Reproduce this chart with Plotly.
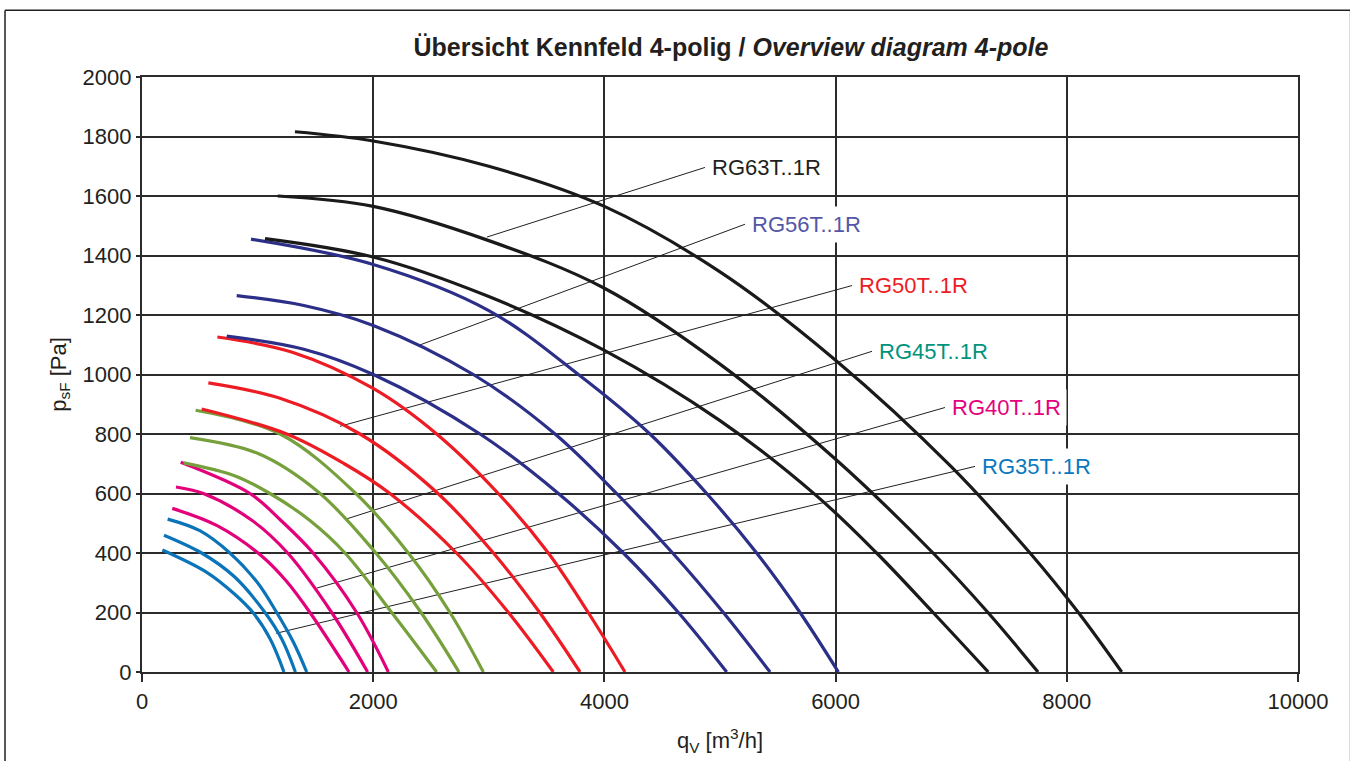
import plotly.graph_objects as go

# ---------------- data ----------------
# RG35T..1R (blue)
rg35_q1 = [176, 560, 800, 963, 1110, 1228]
rg35_p1 = [410, 335, 262, 198, 110, 0]
rg35_q2 = [190, 516, 800, 1064, 1210, 1327]
rg35_p2 = [460, 400, 320, 200, 110, 0]
rg35_q3 = [222, 500, 760, 1000, 1165, 1310, 1425]
rg35_p3 = [514, 475, 400, 300, 200, 100, 0]

# RG40T..1R (magenta)
rg40_q1 = [262, 650, 1035, 1250, 1453, 1791]
rg40_p1 = [550, 492, 390, 305, 200, 0]
rg40_q2 = [294, 531, 950, 1260, 1641, 1952]
rg40_p2 = [622, 600, 510, 400, 200, 0]
rg40_q3 = [335, 934, 1200, 1480, 1857, 2131]
rg40_p3 = [705, 600, 510, 400, 200, 0]

# RG45T..1R (green)
rg45_q1 = [360, 800, 1107, 1450, 1756, 2160, 2549]
rg45_p1 = [703, 660, 600, 510, 400, 200, 0]
rg45_q2 = [415, 1000, 1525, 2001, 2405, 2742]
rg45_p2 = [788, 735, 605, 410, 205, 0]
rg45_q3 = [464, 1194, 1850, 2304, 2664, 2953]
rg45_p3 = [880, 800, 600, 400, 200, 0]

# RG50T..1R (red)
rg50_q1 = [516, 1252, 1750, 2145, 2720, 3170, 3558]
rg50_p1 = [884, 800, 700, 600, 400, 200, 0]
rg50_q2 = [574, 1194, 1886, 2560, 3040, 3440, 3789]
rg50_p2 = [972, 920, 800, 600, 400, 200, 0]
rg50_q3 = [652, 1300, 2000, 2549, 3082, 3515, 3860, 4178]
rg50_p3 = [1126, 1075, 953, 800, 600, 400, 200, 0]

# RG56T..1R (navy)
rg56_q1 = [733, 1400, 2001, 2924, 3602, 4164, 4640, 5058]
rg56_p1 = [1129, 1085, 1000, 800, 600, 400, 200, 0]
rg56_q2 = [819, 1400, 2000, 2866, 3573, 4106, 4590, 5029, 5433]
rg56_p2 = [1265, 1232, 1165, 1000, 800, 600, 400, 200, 0]
rg56_q3 = [943, 2000, 3000, 3775, 4394, 4885, 5317, 5692, 6024]
rg56_p3 = [1455, 1370, 1215, 1000, 800, 600, 400, 200, 0]

# RG63T..1R (black)
rg63_q1 = [1064, 2000, 3000, 4000, 5000, 5836, 6355, 6843, 7321]
rg63_p1 = [1457, 1395, 1262, 1081, 845, 592, 400, 200, 0]
rg63_q2 = [1174, 2000, 3000, 4000, 5000, 6000, 6843, 7318, 7751]
rg63_p2 = [1600, 1565, 1450, 1290, 1035, 715, 400, 200, 0]
rg63_q3 = [1323, 2000, 3000, 4000, 5000, 6000, 7000, 7682, 8100, 8475]
rg63_p3 = [1816, 1785, 1700, 1565, 1345, 1048, 690, 400, 200, 0]

# labels with leader lines: start point on a curve, end point at the label
label_names = ["RG63T..1R", "RG56T..1R", "RG50T..1R", "RG45T..1R", "RG40T..1R", "RG35T..1R"]
leader_q0 = [2984, 2388, 1713, 1773, 1511, 1159]
leader_p0 = [1462, 1097, 826, 515, 282, 130]
leader_q1 = [4870, 5216, 6142, 6315, 6946, 7206]
leader_p1 = [1696, 1505, 1299, 1078, 889, 691]
label_colors = ["#231f20", "#5357a5", "#ed1c24", "#00937c", "#e5007d", "#0a78bf"]

x_ticks = [0, 2000, 4000, 6000, 8000, 10000]
y_ticks = [0, 200, 400, 600, 800, 1000, 1200, 1400, 1600, 1800, 2000]

# ---------------- figure ----------------
families = [
    ("#0b73b8", [(rg35_q1, rg35_p1), (rg35_q2, rg35_p2), (rg35_q3, rg35_p3)]),
    ("#e3007b", [(rg40_q1, rg40_p1), (rg40_q2, rg40_p2), (rg40_q3, rg40_p3)]),
    ("#76a03c", [(rg45_q1, rg45_p1), (rg45_q2, rg45_p2), (rg45_q3, rg45_p3)]),
    ("#ed1c24", [(rg50_q1, rg50_p1), (rg50_q2, rg50_p2), (rg50_q3, rg50_p3)]),
    ("#2b2f88", [(rg56_q1, rg56_p1), (rg56_q2, rg56_p2), (rg56_q3, rg56_p3)]),
    ("#1a1a1a", [(rg63_q1, rg63_p1), (rg63_q2, rg63_p2), (rg63_q3, rg63_p3)]),
]

fig = go.Figure()

# leader lines
for i in range(len(label_names)):
    fig.add_trace(go.Scatter(
        x=[leader_q0[i], leader_q1[i]], y=[leader_p0[i], leader_p1[i]],
        mode="lines", line=dict(color="#231f20", width=1),
        hoverinfo="skip", showlegend=False))

for color, curves in families:
    for q, p in curves:
        fig.add_trace(go.Scatter(
            x=q, y=p, mode="lines",
            line=dict(color=color, width=3.2, shape="spline", smoothing=1.0),
            showlegend=False, hoverinfo="skip"))

for i, name in enumerate(label_names):
    fig.add_annotation(
        x=leader_q1[i], y=leader_p1[i], xref="x", yref="y",
        text=name, showarrow=False, xanchor="left", yanchor="middle",
        xshift=1, font=dict(family="Liberation Sans", size=22, color=label_colors[i]),
        bgcolor="white", borderpad=5)

axis_font = dict(family="Liberation Sans", size=22, color="#231f20")
fig.update_xaxes(
    range=[0, 10000], tickvals=x_ticks, ticktext=[str(v) for v in x_ticks],
    showgrid=True, gridcolor="#2b2b2b", gridwidth=1.6,
    showline=True, linecolor="#2b2b2b", linewidth=2.2, mirror=True,
    ticks="outside", ticklen=8, tickwidth=1.5, tickcolor="#2b2b2b",
    zeroline=False, tickfont=axis_font,
    title=dict(text="q<sub>V</sub> [m<sup>3</sup>/h]", font=axis_font, standoff=20))
fig.update_yaxes(
    range=[0, 2000], tickvals=y_ticks, ticktext=[str(v) for v in y_ticks],
    showgrid=True, gridcolor="#2b2b2b", gridwidth=1.6,
    showline=True, linecolor="#2b2b2b", linewidth=2.2, mirror=True,
    ticks="outside", ticklen=4, tickwidth=1.5, tickcolor="#2b2b2b",
    zeroline=False, tickfont=axis_font,
    title=dict(text="p<sub>sF</sub> [Pa]", font=axis_font, standoff=10))

# outer frame
fig.add_shape(type="line", xref="paper", yref="paper", x0=-0.1185, x1=-0.1185, y0=1.112, y1=-0.2,
              line=dict(color="#231f20", width=1.5))
fig.add_shape(type="line", xref="paper", yref="paper", x0=-0.1185, x1=1.0455, y0=1.112, y1=1.112,
              line=dict(color="#231f20", width=1.5))
fig.add_shape(type="line", xref="paper", yref="paper", x0=1.0455, x1=1.0455, y0=1.112, y1=-0.2,
              line=dict(color="#231f20", width=1.5))

fig.update_layout(
    width=1350, height=761,
    margin=dict(l=142, r=52, t=77, b=86),
    paper_bgcolor="white", plot_bgcolor="white",
    title=dict(text="<b>Übersicht Kennfeld 4-polig / <i>Overview diagram 4-pole</i></b>",
               x=0.5095, xref="paper", xanchor="center",
               y=1 - 47 / 761, yref="container", yanchor="middle",
               font=dict(family="Liberation Sans", size=25, color="#231f20")),
    font=dict(family="Liberation Sans"),
)

fig.write_html("out.html")
